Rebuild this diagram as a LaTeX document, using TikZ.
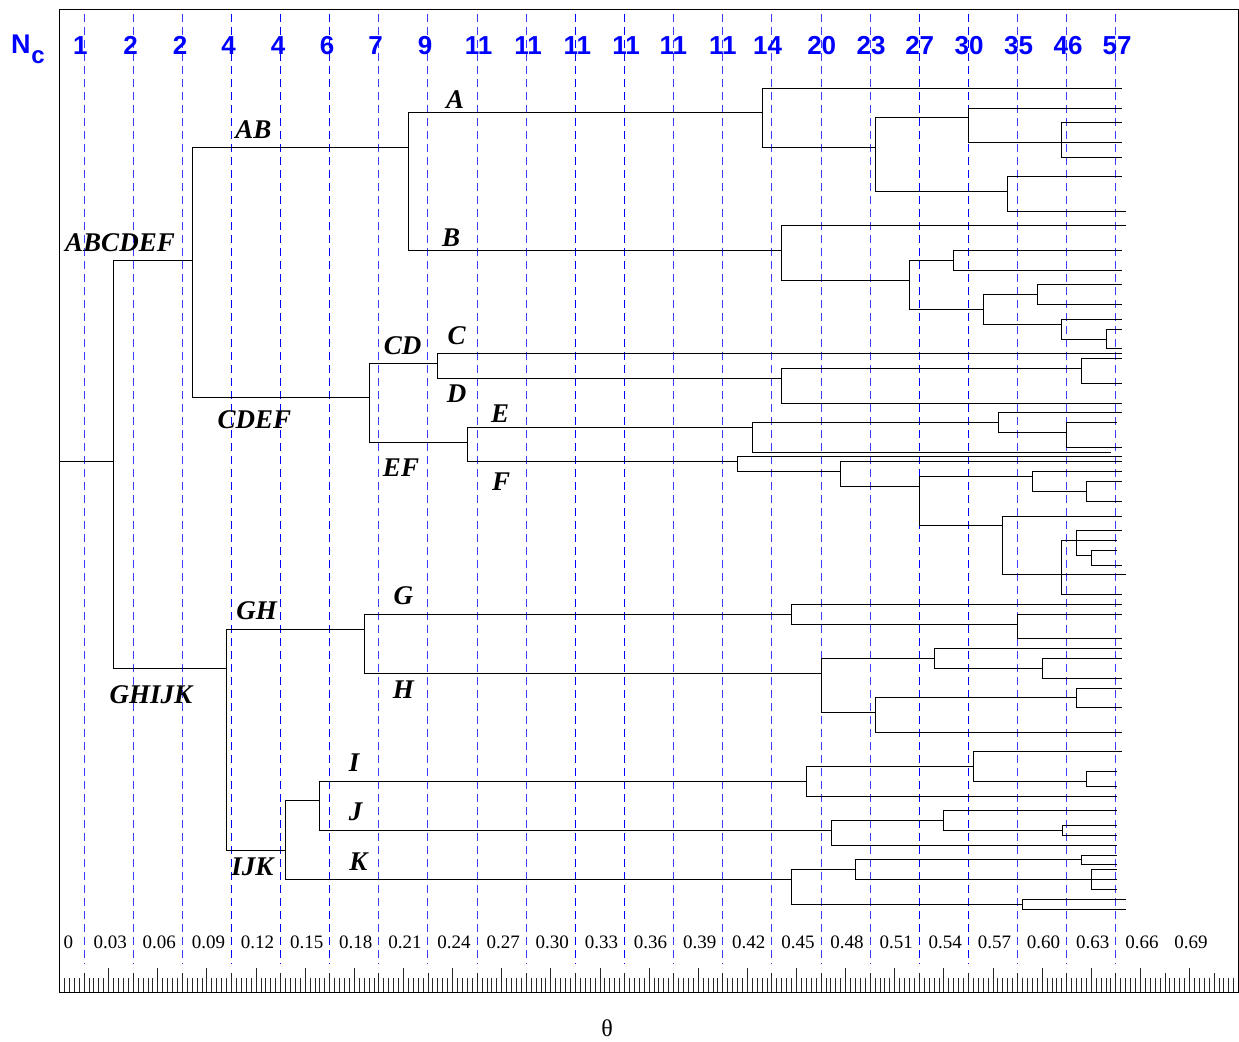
\documentclass[tikz,border=0pt]{standalone}
\usepackage{fontspec}
\setmainfont{Liberation Serif}
\newfontfamily\hvfont{Liberation Sans}
\definecolor{lightblue}{RGB}{60,60,255}
\tikzset{
  tree/.style={line width=1pt, black, line cap=rect},
  frm/.style={line width=1pt, black},
  tickmark/.style={line width=0.8pt, black!85},
  vlight/.style={line width=1pt, lightblue, dash pattern=on 8pt off 5pt},
  vpure/.style={line width=1pt, blue, dash pattern=on 8pt off 5pt},
  lab/.style={font=\bfseries\itshape\fontsize{27}{27}\selectfont, inner sep=0pt, anchor=base},
  hdr/.style={font=\hvfont\bfseries\fontsize{26}{26}\selectfont, text=blue, inner sep=0pt, anchor=base},
  axl/.style={font=\fontsize{19}{19}\selectfont, inner sep=0pt, anchor=base},
}
\newcommand\brr[3]{\draw[tree] (#2) -- (#1 |- #2) -- (#1 |- #3) -- (#3);}
\newcommand\brx[2]{\draw[tree] (#1 |- #2) -- (#2);}
\begin{document}
\begin{tikzpicture}[x=1pt,y=-1pt]
\useasboundingbox (0,0) rectangle (1239,1041);
\fill[white] (0,0) rectangle (1239,1041);
% dashed guide lines
\foreach \i in {0,1,2,6,7,8,9,12,13,14,15,16,19,20,21}
  \draw[vlight] (84.07+49.13*\i,14) -- (84.07+49.13*\i,964);
\foreach \i in {3,4,5,10,11,17,18}
  \draw[vpure] (84.07+49.13*\i,14) -- (84.07+49.13*\i,964);
% ticks
\foreach \k in {1,...,239}{
  \pgfmathsetmacro\tl{ifthenelse(mod(\k,10)==0,24,ifthenelse(mod(\k,5)==0,19,14))}
  \draw[tickmark] (59.5+4.913*\k,992) -- ++(0,-\tl);
}
% frame
\draw[frm] (59.5,10) rectangle (1238.5,992);
% ---------- tree coordinates ----------
\coordinate (rin) at (59.5,461.7);
\coordinate (n0) at (113.3,461.7);
\coordinate (ABCDEF) at (192,260.3);
\coordinate (GHIJK) at (226,668);
\coordinate (AB) at (408.3,147.3);
\coordinate (CDEF) at (369,397.7);
\coordinate (A) at (762,112.7);
\coordinate (B) at (781.8,250.3);
\coordinate (a1) at (1121,88.3);
\coordinate (a2) at (875.3,147.3);
\coordinate (a3) at (968.5,117.7);
\coordinate (a4) at (1007.7,191.3);
\coordinate (a5) at (1061.6,142);
\coordinate (a6) at (1121,108);
\coordinate (a7) at (1121,122.7);
\coordinate (a8) at (1121,142);
\coordinate (a9) at (1121,157.3);
\coordinate (a10) at (1121,176.7);
\coordinate (a11) at (1125.6,211.3);
\coordinate (b1) at (1125.6,225.7);
\coordinate (b2) at (909.4,280);
\coordinate (b3) at (953.7,260);
\coordinate (b4) at (983.3,309.3);
\coordinate (b5) at (1121,250.3);
\coordinate (b6) at (1121,270);
\coordinate (b7) at (1037.2,294.3);
\coordinate (b8) at (1061.6,324);
\coordinate (b9) at (1121,284.7);
\coordinate (b10) at (1121,304.3);
\coordinate (b11) at (1121,319.3);
\coordinate (b12) at (1106,339);
\coordinate (b13) at (1121,329);
\coordinate (b14) at (1121,348.7);
\coordinate (CD) at (437.7,363.7);
\coordinate (EF) at (467.3,442);
\coordinate (C) at (1121,353.7);
\coordinate (D) at (781.8,378.3);
\coordinate (d1) at (1081.6,368.3);
\coordinate (d2) at (1121,403);
\coordinate (d3) at (1121,358.7);
\coordinate (d4) at (1121,383.3);
\coordinate (E) at (752.3,427.3);
\coordinate (F) at (737.5,461.7);
\coordinate (e1) at (998,422.3);
\coordinate (e2) at (1110.8,452);
\coordinate (e3) at (1121,412.7);
\coordinate (e4) at (1066.8,432.3);
\coordinate (e5) at (1116,422.3);
\coordinate (e6) at (1121,447);
\coordinate (f1) at (1121,456.7);
\coordinate (f2) at (840.6,471.3);
\coordinate (f3) at (1121,461.7);
\coordinate (f4) at (919.3,486.3);
\coordinate (f5) at (1032.4,476.3);
\coordinate (f6) at (1002.9,525.7);
\coordinate (f7) at (1121,471.3);
\coordinate (f8) at (1086.7,491.3);
\coordinate (f9) at (1121,481.3);
\coordinate (f10) at (1121,501.3);
\coordinate (f11) at (1121,516);
\coordinate (f12) at (1061.6,574.7);
\coordinate (f13) at (1076.8,540.3);
\coordinate (f14) at (1121,594.3);
\coordinate (f15) at (1125.6,574.7);
\coordinate (f16) at (1121,530.3);
\coordinate (f17) at (1091.2,555);
\coordinate (f18) at (1116,540.3);
\coordinate (f19) at (1116,550.3);
\coordinate (f20) at (1121,565);
\coordinate (GH) at (364,629);
\coordinate (IJK) at (285.7,850);
\coordinate (G) at (791.8,614.3);
\coordinate (H) at (821,673);
\coordinate (g1) at (1121,604.3);
\coordinate (g2) at (1017.6,624);
\coordinate (g3) at (1121,614.3);
\coordinate (g4) at (1121,638.7);
\coordinate (h1) at (934.4,658.3);
\coordinate (h2) at (875.3,712.3);
\coordinate (h3) at (1121,648.7);
\coordinate (h4) at (1042.4,668.3);
\coordinate (h5) at (1121,658.3);
\coordinate (h6) at (1121,678);
\coordinate (h7) at (1076.8,697.7);
\coordinate (h8) at (1121,732);
\coordinate (h9) at (1121,688);
\coordinate (h10) at (1121,707.3);
\coordinate (IJ) at (319.7,800.7);
\coordinate (K) at (791.8,879.3);
\coordinate (I) at (806.6,781.3);
\coordinate (J) at (831,830.3);
\coordinate (i1) at (973.3,766.3);
\coordinate (i2) at (1116,796);
\coordinate (i3) at (1121,751.7);
\coordinate (i4) at (1086.7,781.3);
\coordinate (i5) at (1116,771.3);
\coordinate (i6) at (1116,786.3);
\coordinate (j1) at (943.7,820.3);
\coordinate (j2) at (1116,845.3);
\coordinate (j3) at (1116,810.7);
\coordinate (j4) at (1062,830.3);
\coordinate (j5) at (1116,825.3);
\coordinate (j6) at (1116,835.3);
\coordinate (k1) at (855.7,869.3);
\coordinate (k2) at (1022.4,904);
\coordinate (k3) at (1081.6,859.7);
\coordinate (k4) at (1091.2,879.3);
\coordinate (k5) at (1116,855);
\coordinate (k6) at (1116,864.7);
\coordinate (k7) at (1116,869.3);
\coordinate (k8) at (1116,889.3);
\coordinate (k9) at (1116,879.3);
\coordinate (k10) at (1125.6,899);
\coordinate (k11) at (1125.6,909);
% ---------- tree edges ----------
\draw[tree] (rin) -- (n0);
\brr{n0}{ABCDEF}{GHIJK}
\brr{ABCDEF}{AB}{CDEF}
\brr{AB}{A}{B}
\brr{A}{a1}{a2}
\brr{a2}{a3}{a4}
\brr{a3}{a6}{a5}
\brr{a5}{a7}{a9}
\brx{a5}{a8}
\brr{a4}{a10}{a11}
\brr{B}{b1}{b2}
\brr{b2}{b3}{b4}
\brr{b3}{b5}{b6}
\brr{b4}{b7}{b8}
\brr{b7}{b9}{b10}
\brr{b8}{b11}{b12}
\brr{b12}{b13}{b14}
\brr{CDEF}{CD}{EF}
\brr{CD}{C}{D}
\brr{D}{d1}{d2}
\brr{d1}{d3}{d4}
\brr{EF}{E}{F}
\brr{E}{e1}{e2}
\brr{e1}{e3}{e4}
\brr{e4}{e5}{e6}
\brr{F}{f1}{f2}
\brr{f2}{f3}{f4}
\brr{f4}{f5}{f6}
\brr{f5}{f7}{f8}
\brr{f8}{f9}{f10}
\brr{f6}{f11}{f12}
\brr{f12}{f13}{f14}
\brx{f12}{f15}
\brr{f13}{f16}{f17}
\brx{f13}{f18}
\brr{f17}{f19}{f20}
\brr{GHIJK}{GH}{IJK}
\brr{GH}{G}{H}
\brr{G}{g1}{g2}
\brr{g2}{g3}{g4}
\brr{H}{h1}{h2}
\brr{h1}{h3}{h4}
\brr{h4}{h5}{h6}
\brr{h2}{h7}{h8}
\brr{h7}{h9}{h10}
\brr{IJK}{IJ}{K}
\brr{IJ}{I}{J}
\brr{I}{i1}{i2}
\brr{i1}{i3}{i4}
\brr{i4}{i5}{i6}
\brr{J}{j1}{j2}
\brr{j1}{j3}{j4}
\brr{j4}{j5}{j6}
\brr{K}{k1}{k2}
\brr{k1}{k3}{k4}
\brr{k3}{k5}{k6}
\brr{k4}{k7}{k8}
\brx{k4}{k9}
\brr{k2}{k10}{k11}
% ---------- cluster labels ----------
\node[lab] (lA) at (455,108.3) {A};
\node[lab] (lAB) at (253.3,138.3) {AB};
\node[lab] (lABCDEF) at (120,251.7) {ABCDEF};
\node[lab] (lB) at (451,246) {B};
\node[lab] (lCD) at (402.7,354.3) {CD};
\node[lab] (lC) at (456.7,344) {C};
\node[lab] (lD) at (456.7,402.3) {D};
\node[lab] (lCDEF) at (254.3,428.3) {CDEF};
\node[lab] (lE) at (500,422.7) {E};
\node[lab] (lEF) at (401,476.7) {EF};
\node[lab] (lF) at (501,490) {F};
\node[lab] (lG) at (403.3,604.3) {G};
\node[lab] (lGH) at (256.7,619.3) {GH};
\node[lab] (lH) at (403.3,698) {H};
\node[lab] (lGHIJK) at (151,703.3) {GHIJK};
\node[lab] (lI) at (354,771.7) {I};
\node[lab] (lJ) at (355.7,820.7) {J};
\node[lab] (lIJK) at (252.3,875) {IJK};
\node[lab] (lK) at (358.3,870) {K};
% ---------- header N_c ----------
\node[font=\hvfont\bfseries\fontsize{27}{27}\selectfont, text=blue, inner sep=0pt, anchor=base] (ncN) at (20.8,53.3) {N};
\node[font=\hvfont\bfseries\fontsize{24}{24}\selectfont, text=blue, inner sep=0pt, anchor=base] (ncC) at (38,63.3) {c};
\foreach \xx/\vv [count=\n] in {80.3/1,130.5/2,180/2,228.5/4,278/4,327/6,375.6/7,425/9,478.5/11,528/11,577.3/11,626/11,673.4/11,722.8/11,767.5/14,821.7/20,871/23,919.7/27,969/30,1018.6/35,1068/46,1117/57}
  \node[hdr] (nc\n) at (\xx,55) {\vv};
% ---------- axis labels ----------
\node[axl] (ax0) at (68.4,948.3) {0};
\foreach \vv [count=\j] in {0.03,0.06,0.09,0.12,0.15,0.18,0.21,0.24,0.27,0.30,0.33,0.36,0.39,0.42,0.45,0.48,0.51,0.54,0.57,0.60,0.63,0.66,0.69}
  \node[axl] (ax\j) at (61+49.13*\j,948.3) {\vv};
\node[font=\fontsize{24}{24}\selectfont, inner sep=0pt, anchor=base] (theta) at (607,1036.7) {θ};
\end{tikzpicture}
\end{document}
